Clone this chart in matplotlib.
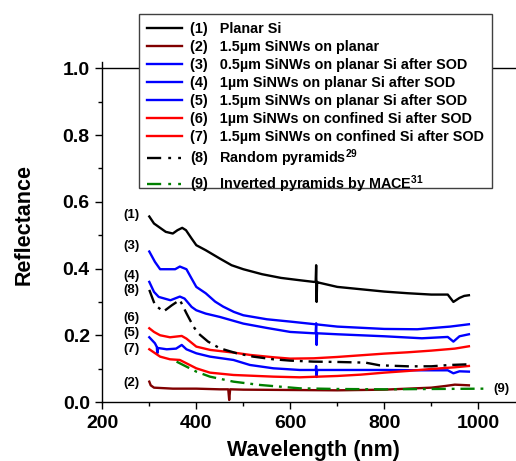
import matplotlib
matplotlib.use("Agg")
import matplotlib.pyplot as plt
from matplotlib.lines import Line2D
from matplotlib.patches import Rectangle

plt.rcParams['font.family'] = ['Liberation Sans', 'DejaVu Sans']
plt.rcParams['font.weight'] = 'bold'
plt.rcParams['mathtext.fontset'] = 'custom'
plt.rcParams['mathtext.rm'] = 'Liberation Sans:bold'
plt.rcParams['mathtext.bf'] = 'Liberation Sans:bold'
plt.rcParams['mathtext.default'] = 'bf'

# ---------------- data ----------------
labels = [
    "(1)   Planar Si",
    "(2)   1.5\u00b5m SiNWs on planar",
    "(3)   0.5\u00b5m SiNWs on planar Si after SOD",
    "(4)   1\u00b5m SiNWs on planar Si after SOD",
    "(5)   1.5\u00b5m SiNWs on planar Si after SOD",
    "(6)   1\u00b5m SiNWs on confined Si after SOD",
    "(7)   1.5\u00b5m SiNWs on confined Si after SOD",
    "(8)   Random pyramids$^{29}$",
    "(9)   Inverted pyramids by MACE$^{31}$",
]

x1 = [300, 310, 320, 335, 350, 360, 370, 378, 390, 400, 420, 450, 475, 500, 540, 580, 620, 650,
      654, 655, 656, 657, 660, 700, 750, 800, 850, 900, 935, 947, 960, 970, 980]
y1 = [0.556, 0.535, 0.525, 0.51, 0.505, 0.515, 0.522, 0.515, 0.49, 0.47, 0.455, 0.43, 0.41, 0.398,
      0.383, 0.372, 0.365, 0.36, 0.36, 0.41, 0.30, 0.36, 0.358, 0.345, 0.338, 0.331, 0.326, 0.322,
      0.322, 0.30, 0.312, 0.318, 0.32]

x2 = [300, 303, 310, 350, 400, 450, 468, 470, 472, 500, 600, 700, 800, 850, 900, 930, 950, 980]
y2 = [0.061, 0.05, 0.043, 0.04, 0.04, 0.038, 0.038, 0.006, 0.038, 0.037, 0.036, 0.035, 0.037,
      0.04, 0.043, 0.048, 0.052, 0.05]

x3 = [300, 312, 323, 355, 365, 379, 390, 400, 420, 440, 457, 480, 500, 550, 600, 700, 800, 870,
      940, 980]
y3 = [0.451, 0.42, 0.398, 0.398, 0.406, 0.398, 0.37, 0.345, 0.326, 0.301, 0.286, 0.27, 0.26,
      0.248, 0.241, 0.226, 0.219, 0.218, 0.226, 0.233]

x4 = [300, 310, 320, 345, 365, 375, 390, 400, 420, 450, 500, 550, 600, 650, 654, 655, 656, 657,
      700, 800, 880, 935, 947, 960, 980]
y4 = [0.36, 0.33, 0.315, 0.305, 0.316, 0.31, 0.285, 0.275, 0.265, 0.255, 0.235, 0.222, 0.21,
      0.206, 0.206, 0.236, 0.171, 0.206, 0.203, 0.197, 0.191, 0.195, 0.181, 0.197, 0.203]

x5 = [300, 312, 316, 317, 318, 337, 357, 369, 379, 400, 429, 479, 514, 564, 620, 650, 654, 655,
      656, 657, 700, 800, 880, 935, 947, 960, 980]
y5 = [0.194, 0.176, 0.165, 0.146, 0.162, 0.158, 0.16, 0.171, 0.158, 0.146, 0.136, 0.126, 0.111,
      0.101, 0.096, 0.096, 0.096, 0.108, 0.075, 0.096, 0.096, 0.096, 0.095, 0.095, 0.086, 0.092,
      0.091]

x6 = [300, 310, 323, 344, 369, 379, 400, 430, 480, 515, 565, 600, 650, 700, 750, 800, 850, 900,
      950, 980]
y6 = [0.221, 0.21, 0.2, 0.194, 0.198, 0.19, 0.166, 0.156, 0.148, 0.141, 0.134, 0.13, 0.131,
      0.135, 0.14, 0.145, 0.149, 0.154, 0.16, 0.167]

x7 = [300, 323, 344, 365, 379, 400, 429, 479, 564, 620, 700, 750, 800, 850, 900, 950, 980]
y7 = [0.158, 0.136, 0.128, 0.126, 0.116, 0.101, 0.088, 0.081, 0.076, 0.074, 0.078, 0.082, 0.088,
      0.093, 0.099, 0.104, 0.108]

x8 = [300, 312, 330, 348, 365, 379, 394, 404, 425, 450, 486, 521, 564, 600, 650, 700, 760, 790,
      850, 900, 940, 980]
y8 = [0.336, 0.291, 0.271, 0.29, 0.306, 0.266, 0.226, 0.206, 0.181, 0.161, 0.146, 0.136, 0.128,
      0.124, 0.121, 0.12, 0.118, 0.11, 0.107, 0.107, 0.111, 0.113]

x9 = [358, 379, 400, 429, 479, 536, 620, 700, 800, 900, 1017]
y9 = [0.121, 0.106, 0.091, 0.076, 0.061, 0.051, 0.041, 0.039, 0.038, 0.039, 0.04]

ann_text = ["(1)", "(3)", "(4)", "(8)", "(6)", "(5)", "(7)", "(2)", "(9)"]
ann_x = [262, 262, 262, 262, 263, 263, 263, 263, 1049]
ann_y = [0.561, 0.467, 0.378, 0.336, 0.251, 0.206, 0.159, 0.058, 0.038]

xticks = [200, 400, 600, 800, 1000]
yticks = [0.0, 0.2, 0.4, 0.6, 0.8, 1.0]

# ---------------- figure ----------------
W, H = 516, 461
fig = plt.figure(figsize=(W / 100, H / 100), dpi=100)
ax_l, ax_r, ax_b, ax_t = 102.3, 525.3, 402.0, 61.7
ax = fig.add_axes([ax_l / W, 1 - ax_b / H, (ax_r - ax_l) / W, (ax_b - ax_t) / H])

lw = 1.7
dd = (6, 2.5, 1.2, 2.5)
series = [
    (x1, y1, 'black', '-'),
    (x2, y2, '#800000', '-'),
    (x3, y3, '#0000ff', '-'),
    (x4, y4, '#0000ff', '-'),
    (x5, y5, '#0000ff', '-'),
    (x6, y6, '#ff0000', '-'),
    (x7, y7, '#ff0000', '-'),
    (x8, y8, 'black', (0, dd)),
    (x9, y9, '#008000', (0, dd)),
]
handles = []
for (xs, ys, c, ls), lab in zip(series, labels):
    ax.plot(xs, ys, color=c, lw=lw, linestyle=ls)
    if ls == '-':
        handles.append(Line2D([], [], color=c, lw=lw, linestyle='-', label=lab))
    else:
        handles.append(Line2D([], [], color=c, lw=lw,
                              linestyle=(0, (6, 3, 1.2, 3, 1.2, 3)), label=lab))

ax.axhline(1.0, color='black', lw=1.0)

for t, xx, yy in zip(ann_text, ann_x, ann_y):
    ax.text(xx, yy, t, fontsize=9.5, fontweight='bold', ha='center', va='center')

ax.set_xlim(200, 1100)
ax.set_ylim(0, 1.02)
ax.set_xticks(xticks)
ax.set_xticks([300, 500, 700, 900, 1100], minor=True)
ax.set_yticks(yticks)
ax.set_yticks([0.1, 0.3, 0.5, 0.7, 0.9], minor=True)
ax.set_yticklabels([f"{v:.1f}" for v in yticks])
ax.spines['top'].set_visible(False)
ax.spines['right'].set_visible(False)
for s in ('left', 'bottom'):
    ax.spines[s].set_linewidth(1.0)
ax.tick_params(axis='both', which='major', direction='out', length=5, width=1.0,
               labelsize=14, pad=4)
ax.tick_params(axis='both', which='minor', direction='out', length=3, width=1.0)
for lab in ax.get_xticklabels() + ax.get_yticklabels():
    lab.set_fontweight('bold')

ax.set_xlabel("Wavelength (nm)", fontsize=15.5, fontweight='bold')
ax.xaxis.label.set_va('baseline')
ax.xaxis.set_label_coords(0.499, -54 / (ax_b - ax_t))
ax.set_ylabel("Reflectance", fontsize=15.5, fontweight='bold')
ax.yaxis.label.set(va='center', ha='center', rotation_mode='default')
ax.yaxis.set_label_coords((24 - ax_l) / (ax_r - ax_l), (ax_b - 224) / (ax_b - ax_t))

# legend box (frame drawn separately to match the reference box size)
bx0, by0, bx1, by1 = 139.0, 14.3, 492.3, 188.3
frame = Rectangle((bx0 / W, 1 - by1 / H), (bx1 - bx0) / W, (by1 - by0) / H,
                  transform=fig.transFigure, facecolor='white', edgecolor='#404040',
                  linewidth=1.0, clip_on=False, zorder=4.9)
ax.add_artist(frame)

leg = ax.legend(handles=handles, loc='upper left',
                bbox_to_anchor=(bx0 / W, 1 - by0 / H), bbox_transform=fig.transFigure,
                borderaxespad=0, frameon=False,
                prop={'family': ['Liberation Sans', 'DejaVu Sans'], 'weight': 'bold', 'size': 10.4},
                handlelength=2.4, handletextpad=0.6, labelspacing=0.27, borderpad=0.55)
leg.set_zorder(5)

fig.savefig("out.png", dpi=100)
